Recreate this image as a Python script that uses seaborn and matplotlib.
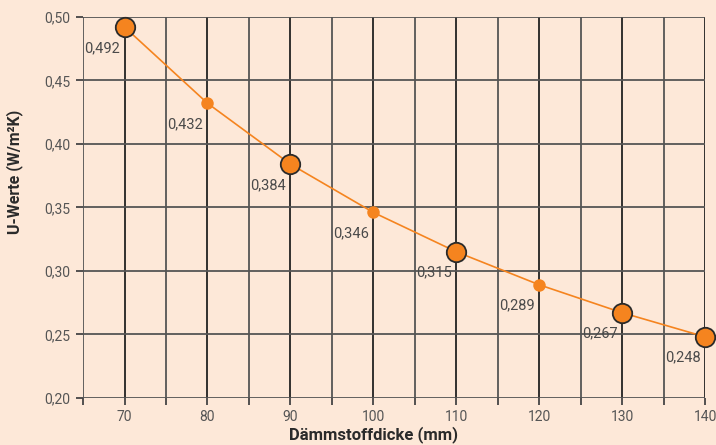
import pandas as pd
import matplotlib.pyplot as plt
import seaborn as sns

# Dämmstoffdicke in mm und U-Werte
dicke = [70, 80, 90, 100, 110, 120, 130, 140]
u_werte = [0.492, 0.432, 0.384, 0.346, 0.315, 0.289, 0.267, 0.248]
u_labels = ['0,492', '0,432', '0,384', '0,346', '0,315', '0,289', '0,267', '0,248']
gross = [True, False, True, False, True, False, True, True]

x_ticks = [70, 80, 90, 100, 110, 120, 130, 140]
y_ticks = [0.20, 0.25, 0.30, 0.35, 0.40, 0.45, 0.50]
y_labels = ['0,20', '0,25', '0,30', '0,35', '0,40', '0,45', '0,50']

df = pd.DataFrame({'dicke': dicke, 'u': u_werte, 'label': u_labels, 'gross': gross})

bg = '#fde8d8'
orange = '#f5841f'

sns.set_theme(style='white')
plt.rcParams['font.family'] = ['Roboto', 'DejaVu Sans']

fig = plt.figure(figsize=(7.16, 4.45), dpi=100, facecolor=bg)
ax = fig.add_axes([0.116, 0.106, 0.869, 0.856])
ax.set_facecolor(bg)

ax.set_xlim(65, 140)
ax.set_ylim(0.20, 0.50)

# Gitter
for x in range(65, 141, 5):
    col = '#222222' if x % 10 == 0 else '#555555'
    ax.axvline(x, color=col, lw=1.3, zorder=1)
for y in y_ticks:
    ax.axhline(y, color='#555555', lw=1.3, zorder=1)

sns.lineplot(data=df, x='dicke', y='u', color=orange, lw=1.2, ax=ax, zorder=2)

klein = df[~df['gross']]
gr = df[df['gross']]
ax.plot(klein['dicke'], klein['u'], 'o', ms=9, color=orange, mec='none', zorder=3, clip_on=False)
ax.plot(gr['dicke'], gr['u'], 'o', ms=14, color=orange, mec='#2a2a2a', mew=1.3, zorder=4, clip_on=False)

for _, r in df.iterrows():
    ax.annotate(r['label'], (r['dicke'], r['u']), xytext=(-16, -15),
                textcoords='offset points', ha='center', va='center',
                fontsize=10.5, color='#4a4a4a', zorder=5)

ax.set_xticks(x_ticks)
ax.set_xticks(list(range(65, 141, 5)), minor=True)
ax.set_xticklabels([str(t) for t in x_ticks])
ax.set_yticks(y_ticks)
ax.set_yticklabels(y_labels)
ax.tick_params(axis='both', which='both', direction='out', length=5, width=1.3,
               color='#444444', labelcolor='#555555', labelsize=10, pad=4, bottom=True, left=True)
ax.tick_params(axis='x', pad=4)

for s in ax.spines.values():
    s.set_visible(False)

ax.set_xlabel('Dämmstoffdicke (mm)', fontsize=12, fontweight='bold', color='#2a2a2a')
ax.set_ylabel('U-Werte (W/m²K)', fontsize=11.5, fontweight='bold', color='#2a2a2a')
ax.xaxis.set_label_coords(0.466, -0.074)
ax.yaxis.set_label_coords(-0.097, 0.593)

fig.savefig('out.png', dpi=100, facecolor=bg)
